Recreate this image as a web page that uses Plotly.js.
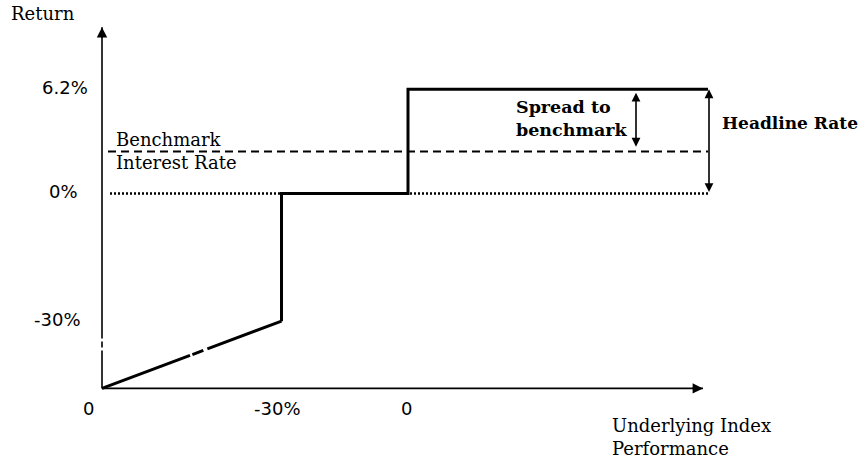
<!DOCTYPE html>
<html>
<head>
<meta charset="utf-8">
<script src="https://cdn.plot.ly/plotly-3.0.1.min.js"></script>
<style>html,body{margin:0;padding:0;background:#fff;}#chart{width:863px;height:459px;}</style>
</head>
<body>
<div id="chart"></div>
<script>
// Schematic payoff diagram (axis units are schematic; y in % with axis break)
const payoffX = [0, 17.95, 17.95, 30.6, 30.6, 60.6];
const payoffY = [-11.6, -7.6, 0, 0, 6.2, 6.2];
const benchmarkRate = 2.5;
const headlineRate = 6.2;
const levelLineX = [0.6, 60.6];
const axisOrigin = [0, -11.6];
const xAxisEnd = 60.1;
const yAxisEnd = 9.9;
const yTickVals = [6.2, 0, -7.6];
const yTickText = ['6.2%', '0%', '-30%'];
const xTickVals = [-1.4, 17.55, 30.4];
const xTickText = ['0', '-30%', '0'];

const serif = 'DejaVu Serif';
const sans = 'DejaVu Sans';

const traces = [
  // x axis
  {x: [axisOrigin[0], xAxisEnd], y: [axisOrigin[1], axisOrigin[1]], mode: 'lines',
   line: {color: '#000', width: 1.6}, hoverinfo: 'skip'},
  // y axis with break marks
  {x: [axisOrigin[0], axisOrigin[0]], y: [axisOrigin[1], yAxisEnd], mode: 'lines',
   line: {color: '#000', width: 1.6, dash: '38px,3px,6px,3px,400px'}, hoverinfo: 'skip'},
  // 0% dotted
  {x: [levelLineX[0] + 0.2, levelLineX[1]], y: [0, 0], mode: 'lines',
   line: {color: '#000', width: 2.4, dash: '2px,2px'}, hoverinfo: 'skip'},
  // benchmark dashed
  {x: levelLineX, y: [benchmarkRate, benchmarkRate], mode: 'lines',
   line: {color: '#000', width: 2.2, dash: '8px,5px'}, hoverinfo: 'skip'},
  // payoff diagonal with break marks
  {x: payoffX.slice(0, 2), y: payoffY.slice(0, 2), mode: 'lines',
   line: {color: '#000', width: 3, dash: '94px,2.5px,11.7px,4.3px,400px'}, hoverinfo: 'skip'},
  // payoff steps
  {x: payoffX.slice(1), y: payoffY.slice(1), mode: 'lines',
   line: {color: '#000', width: 3}, hoverinfo: 'skip'}
];

const ann = [];
// axis arrowheads
ann.push({x: xAxisEnd, y: axisOrigin[1], ax: -12, ay: 0, xref: 'x', yref: 'y', text: '',
  showarrow: true, arrowhead: 2, arrowsize: 1.3, arrowwidth: 1.6, arrowcolor: '#000'});
ann.push({x: axisOrigin[0], y: yAxisEnd, ax: 0, ay: 12, xref: 'x', yref: 'y', text: '',
  showarrow: true, arrowhead: 2, arrowsize: 1.3, arrowwidth: 1.6, arrowcolor: '#000'});
// headline rate double arrow
ann.push({x: 60.7, y: headlineRate, ax: 60.7, ay: 0, axref: 'x', ayref: 'y', xref: 'x', yref: 'y',
  text: '', showarrow: true, arrowhead: 2, startarrowhead: 2, arrowside: 'end+start',
  arrowsize: 1.1, startarrowsize: 1.1, arrowwidth: 1.6, arrowcolor: '#000'});
// spread double arrow
ann.push({x: 53.4, y: 6.0, ax: 53.4, ay: 2.7, axref: 'x', ayref: 'y', xref: 'x', yref: 'y',
  text: '', showarrow: true, arrowhead: 2, startarrowhead: 2, arrowside: 'end+start',
  arrowsize: 1.1, startarrowsize: 1.1, arrowwidth: 1.6, arrowcolor: '#000'});

// tick labels
const yTickX = [-1.2, -2.2, -1.9];
yTickVals.forEach((v, i) => ann.push({x: yTickX[i], y: v + 0.1, xref: 'x', yref: 'y', text: yTickText[i],
  showarrow: false, xanchor: 'right', yanchor: 'middle', font: {family: sans, size: 18, color: '#000'}}));
xTickVals.forEach((v, i) => ann.push({x: v, y: -12.8, xref: 'x', yref: 'y', text: xTickText[i],
  showarrow: false, xanchor: 'center', yanchor: 'middle', font: {family: sans, size: 18, color: '#000'}}));

// text labels
function lbl(x, y, t, opts) {
  ann.push(Object.assign({x: x, y: y, xref: 'x', yref: 'y', text: t, showarrow: false,
    xanchor: 'left', yanchor: 'middle', font: {family: serif, size: 18, color: '#000'}}, opts || {}));
}
lbl(-9.3, 10.7, 'Return');
lbl(1.2, 3.2, 'Benchmark');
lbl(1.2, 1.85, 'Interest Rate');
lbl(41.2, 4.45, '<b>Spread to</b><br><b>benchmark</b>', {align: 'left',
  font: {family: serif, size: 17.5, color: '#000'}});
lbl(61.8, 4.2, '<b>Headline Rate</b>', {font: {family: serif, size: 17, color: '#000'}});
lbl(50.8, -13.8, 'Underlying Index');
lbl(50.8, -15.15, 'Performance');

const yTop = 193.5 / 16.8;
const layout = {
  width: 863, height: 459,
  margin: {l: 0, r: 0, t: 0, b: 0},
  paper_bgcolor: '#fff', plot_bgcolor: '#fff',
  showlegend: false,
  xaxis: {range: [-10.2, 76.1], visible: false, fixedrange: true},
  yaxis: {range: [yTop - 459 / 16.8, yTop], visible: false, fixedrange: true},
  annotations: ann
};
Plotly.newPlot('chart', traces, layout, {staticPlot: true, displayModeBar: false});
</script>
</body>
</html>
